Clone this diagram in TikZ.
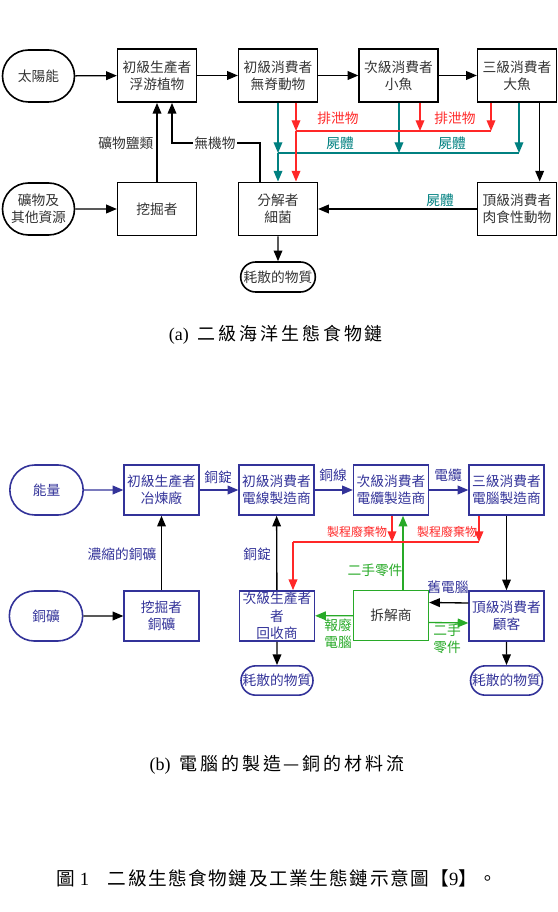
\documentclass[tikz,border=0pt]{standalone}
\usepackage{fontspec}
\setmainfont{Liberation Serif}
\newfontfamily\cjk{Noto Sans CJK TC}
\newfontfamily\cjkcap[LetterSpace=16]{Noto Sans CJK TC}
\newfontfamily\cjkmain[LetterSpace=8]{Noto Sans CJK TC}
\usetikzlibrary{arrows.meta, shapes.misc}

\definecolor{txtgray}{RGB}{51,51,51}
\definecolor{tealc}{RGB}{0,128,128}
\definecolor{redc}{RGB}{255,40,40}
\definecolor{greenc}{RGB}{40,170,40}
\definecolor{navy}{RGB}{51,51,153}

\begin{document}
\begin{tikzpicture}[x=0.75pt, y=-0.75pt,
    box/.style={draw, line width=1.2pt, minimum width=59pt, minimum height=40pt, inner sep=1pt,
        align=center, text=txtgray, font=\cjk\fontsize{10.3}{13}\selectfont},
    term/.style={box, rounded rectangle, minimum width=56pt, minimum height=39pt},
    nbox/.style={box, draw=navy, text=navy, minimum width=56pt, minimum height=37.5pt},
    nterm/.style={nbox, rounded rectangle, minimum width=57pt},
    lbl/.style={inner sep=1pt, align=center, font=\cjk\fontsize{10.3}{12.5}\selectfont},
    arr/.style={-{Triangle[length=8pt, width=6.5pt]}, line width=1pt},
    tarr/.style={arr, tealc},
    rarr/.style={arr, redc},
    garr/.style={arr, greenc},
    narr/.style={arr, navy},
    capt/.style={inner sep=0pt, font=\fontsize{13.5}{16}\selectfont}]
    \useasboundingbox (0,0) rectangle (557,912);

    % (a)
    \node[term] (sun) at (38.5, 76) {太陽能};
    \node[box] (p1) at (157, 75.5) {初級生產者\\浮游植物};
    \node[box] (c1) at (278, 75.5) {初級消費者\\無脊動物};
    \node[box] (c2) at (398.5, 75.5) {次級消費者\\小魚};
    \node[box] (c3) at (517, 75.5) {三級消費者\\大魚};
    \node[term] (ore) at (38.5, 209) {礦物及\\其他資源};
    \node[box] (mine) at (157, 209) {挖掘者};
    \node[box] (dec) at (278, 209) {分解者\\細菌};
    \node[box] (apex) at (517, 209) {頂級消費者\\肉食性動物};
    \node[term, minimum width=58pt, minimum height=22.5pt] (waste) at (278, 277) {耗散的物質};

    \draw[arr] (sun) -- (p1);
    \draw[arr] (p1) -- (c1);
    \draw[arr] (c1) -- (c2);
    \draw[arr] (c2) -- (c3);
    \draw[arr] (ore) -- (mine);
    \draw[arr] (mine) -- (p1);
    \draw[arr] (dec) -- (waste);
    \draw[arr] ([xshift=17pt]c3.south) -- ([xshift=17pt]apex.north);
    \draw[arr] (apex) -- (dec);

    \coordinate (inorg) at (260, 143);
    \coordinate (ik) at (172, 143);
    \draw[arr] (inorg |- dec.north) -- (inorg) -- (ik) -- (ik |- p1.south);
    \node[lbl, fill=white, text=txtgray] (linorg) at (215, 143) {無機物};
    \node[lbl, text=txtgray, anchor=east] (lsalt) at (155, 143) {礦物鹽類};

    \coordinate (t1) at (278, 153);
    \coordinate (t2) at (399, 153);
    \coordinate (t3) at (519, 153);
    \draw[tarr] (t1 |- c1.south) -- (t1);
    \draw[tarr] (t1) -- (t1 |- dec.north);
    \draw[tarr] (t2 |- c2.south) -- (t2);
    \draw[tarr] (t3 |- c3.south) -- (t3);
    \draw[line width=1pt, tealc] (t1) -- (t3);

    \coordinate (r1) at (296, 131);
    \coordinate (r2) at (420, 131);
    \coordinate (r3) at (491, 131);
    \draw[rarr] (r1 |- c1.south) -- (r1);
    \draw[rarr] (r1) -- (r1 |- dec.north);
    \draw[rarr] (r2 |- c2.south) -- (r2);
    \draw[rarr] (r3 |- c3.south) -- (r3);
    \draw[line width=1pt, redc] (r1) -- (r3);

    \node[lbl, text=redc] (lex1) at (338, 118) {排泄物};
    \node[lbl, text=redc] (lex2) at (455, 118) {排泄物};
    \node[lbl, text=tealc] (lcor1) at (340, 143) {屍體};
    \node[lbl, text=tealc] (lcor2) at (452, 143) {屍體};
    \node[lbl, text=tealc] (lcor3) at (440, 200) {屍體};

    \node[capt] (capa) at (276, 335) {(a)\ \ {\cjkcap 二級海洋生態食物鏈}};

    % (b)
    \node[nterm] (energy) at (46.5, 490) {能量};
    \node[nbox] (smelt) at (161.5, 490) {初級生產者\\冶煉廠};
    \node[nbox] (wire) at (276.5, 490) {初級消費者\\電線製造商};
    \node[nbox] (cable) at (391, 490) {次級消費者\\電纜製造商};
    \node[nbox] (pc) at (506.5, 490) {三級消費者\\電腦製造商};
    \node[nterm] (cuore) at (46, 616) {銅礦};
    \node[nbox] (digger) at (161.5, 616) {挖掘者\\銅礦};
    \node[nbox] (recyc) at (277, 616) {次級生產者\\者\\回收商};
    \node[nbox, draw=greenc, text=txtgray] (dism) at (391, 615.5) {拆解商};
    \node[nbox] (cust) at (506.5, 616) {頂級消費者\\顧客};
    \node[nterm, minimum width=56pt, minimum height=22pt] (diss1) at (277, 680.5) {耗散的物質};
    \node[nterm, minimum width=56pt, minimum height=22pt] (diss2) at (506.5, 680.5) {耗散的物質};

    \draw[narr] (energy) -- (smelt);
    \draw[narr] (smelt) -- (wire);
    \draw[narr] (wire) -- (cable);
    \draw[narr] (cable) -- (pc);
    \draw[arr] (cuore) -- (digger);
    \draw[arr] (digger) -- (smelt);
    \draw[arr] (recyc) -- (wire);
    \draw[arr] (pc) -- (cust);
    \draw[arr] (recyc) -- (diss1);
    \draw[arr] (cust) -- (diss2);
    \draw[arr] ([yshift=9.75pt]cust.west) -- ([yshift=9.75pt]dism.east);
    \draw[garr] ([yshift=-5.25pt]dism.east) -- ([yshift=-5.25pt]cust.west);
    \draw[garr] (dism) -- (recyc);

    \coordinate (g1) at (403, 570);
    \draw[garr] (g1 |- dism.north) -- (g1 |- cable.south);

    \coordinate (q1) at (293, 542);
    \coordinate (q2) at (392, 542);
    \coordinate (q3) at (479, 542);
    \draw[rarr] (q2 |- cable.south) -- (q2);
    \draw[rarr] (q3 |- pc.south) -- (q3);
    \draw[line width=1pt, redc] (q1) -- (q3);
    \draw[rarr] (q1) -- (q1 |- recyc.north);

    \node[lbl, text=navy] (lingot1) at (218, 477) {銅錠};
    \node[lbl, text=navy] (lwire) at (333, 475) {銅線};
    \node[lbl, text=navy] (lcable) at (448, 475) {電纜};
    \node[lbl, text=navy, anchor=east] (lconc) at (158, 554) {濃縮的銅礦};
    \node[lbl, text=navy] (lingot2) at (257, 554) {銅錠};
    \node[lbl, text=redc, font=\cjk\fontsize{9}{11}\selectfont] (lproc1) at (357, 532) {製程廢棄物};
    \node[lbl, text=redc, font=\cjk\fontsize{9}{11}\selectfont] (lproc2) at (447, 532) {製程廢棄物};
    \node[lbl, text=greenc] (lparts1) at (375, 570) {二手零件};
    \node[lbl, text=navy] (lold) at (448, 587) {舊電腦};
    \node[lbl, text=greenc] (lparts2) at (447, 638.5) {二手\\零件};
    \node[lbl, text=greenc] (lscrap) at (338, 633.5) {報廢\\電腦};

    \node[capt] (capb) at (277, 765) {(b)\ \ {\cjkcap 電腦的製造—銅的材料流}};

    \node[capt, font=\fontsize{14}{17}\selectfont] (capmain) at (277, 878) {{\cjk 圖} 1\quad{\cjkmain 二級生態食物鏈及工業生態鏈示意圖【}9{\cjkmain 】。}};
\end{tikzpicture}
\end{document}
